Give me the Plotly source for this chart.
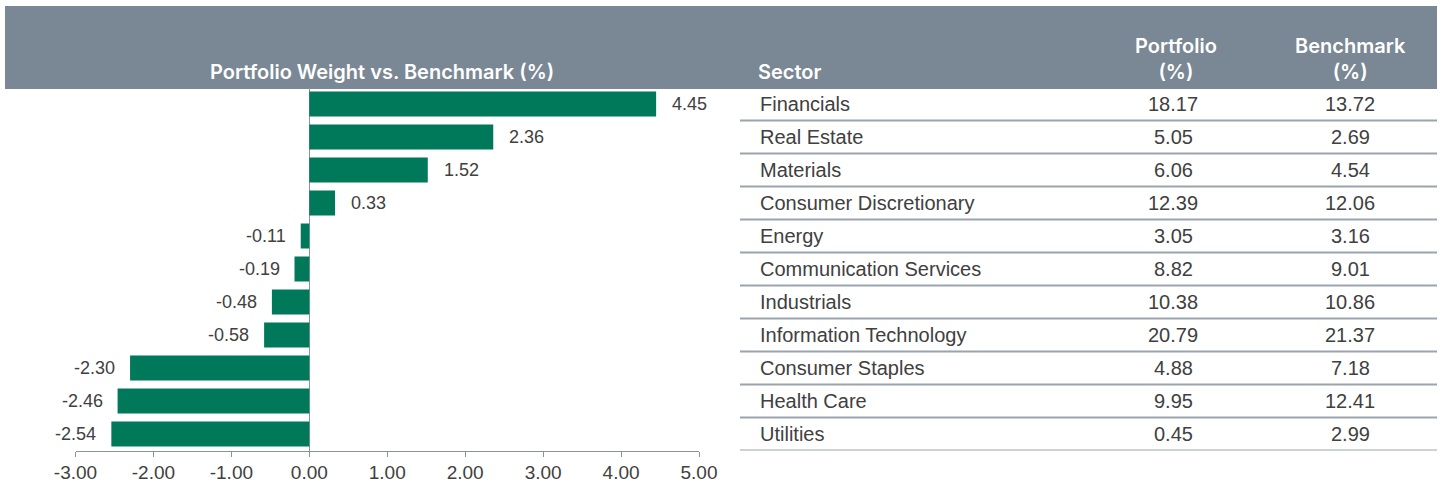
import plotly.graph_objects as go

sectors = ["Financials", "Real Estate", "Materials", "Consumer Discretionary", "Energy",
           "Communication Services", "Industrials", "Information Technology",
           "Consumer Staples", "Health Care", "Utilities"]
diff = [4.45, 2.36, 1.52, 0.33, -0.11, -0.19, -0.48, -0.58, -2.30, -2.46, -2.54]
portfolio = [18.17, 5.05, 6.06, 12.39, 3.05, 8.82, 10.38, 20.79, 4.88, 9.95, 0.45]
benchmark = [13.72, 2.69, 4.54, 12.06, 3.16, 9.01, 10.86, 21.37, 7.18, 12.41, 2.99]
xticks = [-3, -2, -1, 0, 1, 2, 3, 4, 5]

W, H = 1442, 483
GREEN = "#00795a"
BAND = "#7a8794"
TXT = "#404040"
LINE = "#9aa4ae"
BODY = "Liberation Sans, Arial, sans-serif"
HEAD = "Inter, Arial, sans-serif"

def px(x):
    return x / W

def py(y):
    return 1 - y / H

fig = go.Figure()
fig.add_trace(go.Bar(
    x=diff, y=sectors, orientation="h",
    marker=dict(color=GREEN, line=dict(width=0)),
    hoverinfo="skip",
))

annotations = []
for s, v in zip(sectors, diff):
    annotations.append(dict(
        x=v, y=s, xref="x", yref="y", text=f"{v:.2f}", showarrow=False,
        xanchor="left" if v >= 0 else "right", xshift=14 if v >= 0 else -13,
        font=dict(family=BODY, size=18, color=TXT)))

for s, p, b in zip(sectors, portfolio, benchmark):
    annotations.append(dict(x=px(758), y=s, xref="paper", yref="y", text=s, showarrow=False,
                            xanchor="left", font=dict(family=BODY, size=20, color=TXT)))
    annotations.append(dict(x=px(1173), y=s, xref="paper", yref="y", text=f"{p:.2f}", showarrow=False,
                            xanchor="center", font=dict(family=BODY, size=20, color=TXT)))
    annotations.append(dict(x=px(1350), y=s, xref="paper", yref="y", text=f"{b:.2f}", showarrow=False,
                            xanchor="center", font=dict(family=BODY, size=20, color=TXT)))

hfont = dict(family=HEAD, size=20, color="white", weight=600)
annotations += [
    dict(x=px(382), y=py(72), xref="paper", yref="paper", text="Portfolio Weight vs. Benchmark (%)",
         showarrow=False, xanchor="center", yanchor="middle", font=hfont),
    dict(x=px(756), y=py(72), xref="paper", yref="paper", text="Sector",
         showarrow=False, xanchor="left", yanchor="middle", font=hfont),
    dict(x=px(1176), y=py(59.5), xref="paper", yref="paper", text="Portfolio<br>(%)",
         showarrow=False, xanchor="center", yanchor="middle", font=hfont),
    dict(x=px(1350), y=py(59.5), xref="paper", yref="paper", text="Benchmark<br>(%)",
         showarrow=False, xanchor="center", yanchor="middle", font=hfont),
]

shapes = [dict(type="rect", xref="paper", yref="paper", x0=px(5), x1=px(1437), y0=py(89), y1=py(6),
               fillcolor=BAND, line=dict(width=0), layer="below")]
for i in range(len(sectors)):
    shapes.append(dict(type="line", xref="paper", yref="y", x0=px(740), x1=px(1437),
                       y0=i + 0.5, y1=i + 0.5, line=dict(color=LINE, width=2)))

fig.update_layout(
    template="none",
    width=W, height=H, margin=dict(l=0, r=0, t=0, b=0, pad=0, autoexpand=False),
    paper_bgcolor="white", plot_bgcolor="white",
    showlegend=False, bargap=0.24,
    annotations=annotations, shapes=shapes,
    xaxis=dict(domain=[px(75.5), px(699)], range=[-3, 5], tickvals=xticks,
               ticktext=[f"{t:.2f}" for t in xticks], automargin=False,
               showgrid=False, zeroline=True, zerolinecolor="#8a949e", zerolinewidth=1,
               showline=True, linecolor="#8a949e", linewidth=1,
               ticks="outside", ticklen=5, tickcolor="#8a949e",
               tickfont=dict(family=BODY, size=19, color=TXT), fixedrange=True),
    yaxis=dict(domain=[py(450.5), py(87.5)], range=[10.5, -0.5], showticklabels=False,
               showgrid=False, zeroline=False, showline=False, ticks="", automargin=False,
               categoryorder="array", categoryarray=sectors, fixedrange=True),
)

fig.write_html("out.html")
